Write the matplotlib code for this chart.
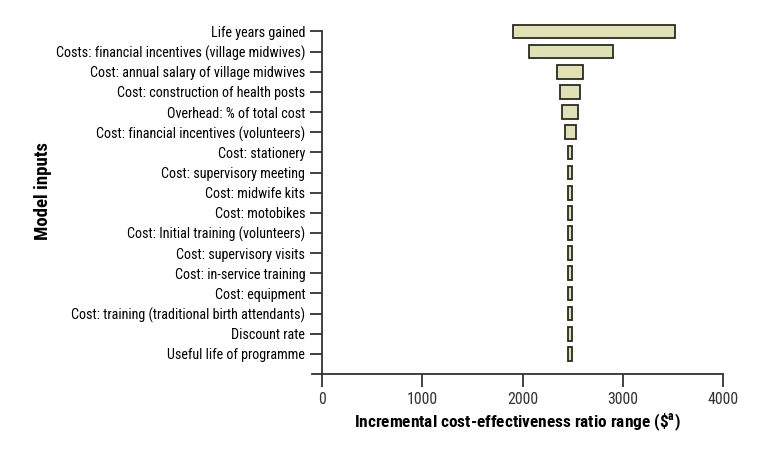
import matplotlib.pyplot as plt

# tornado chart: ICER range per model input
inputs = [
    "Life years gained",
    "Costs: financial incentives (village midwives)",
    "Cost: annual salary of village midwives",
    "Cost: construction of health posts",
    "Overhead: % of total cost",
    "Cost: financial incentives (volunteers)",
    "Cost: stationery",
    "Cost: supervisory meeting",
    "Cost: midwife kits",
    "Cost: motobikes",
    "Cost: Initial training (volunteers)",
    "Cost: supervisory visits",
    "Cost: in-service training",
    "Cost: equipment",
    "Cost: training (traditional birth attendants)",
    "Discount rate",
    "Useful life of programme",
]
low = [1905, 2060, 2345, 2375, 2398, 2425, 2458, 2458, 2458, 2458, 2458, 2458, 2458, 2458, 2458, 2458, 2458]
high = [3525, 2900, 2605, 2578, 2552, 2530, 2494, 2492, 2492, 2492, 2492, 2492, 2492, 2492, 2492, 2492, 2492]
xticks = [0, 1000, 2000, 3000, 4000]

plt.rcParams['font.family'] = ['Roboto Condensed', 'Liberation Sans', 'DejaVu Sans']

fig = plt.figure(figsize=(7.71, 4.54), dpi=100)
ax = fig.add_axes([312 / 771, 1 - 374 / 454, (723 - 312) / 771, (374 - 19.4) / 454])

widths = [h - l for l, h in zip(low, high)]
ax.barh(range(len(inputs)), widths, left=low, height=0.68,
        color="#dfe0b4", edgecolor="#2b2b22", linewidth=1.3)

ax.set_xlim(-100, 4000)
ax.set_ylim(17, -0.6)
ax.set_yticks(range(len(inputs)))
ylabels = ax.set_yticklabels(inputs, fontsize=11.4, color="#1a1a1a")
ax.set_xticks(xticks)
ax.set_xticklabels([str(t) for t in xticks], fontsize=11.4, color="#333333")

for s in ["top", "right"]:
    ax.spines[s].set_visible(False)
ax.spines["left"].set_position(("data", 0))
ax.spines["left"].set_bounds(0, 17)
ax.spines["bottom"].set_bounds(-100, 4000)
for s in ["left", "bottom"]:
    ax.spines[s].set_color("#333333")
    ax.spines[s].set_linewidth(1.3)
ax.tick_params(axis="both", length=9, width=1.3, color="#333333")
ax.tick_params(axis="y", pad=3)
ax.tick_params(axis="x", pad=4)

# longest label is about 250 px wide in the original
fig.canvas.draw()
w = ylabels[1].get_window_extent().width
fs = min(13.0, 11.4 * 250 / w)
for lab in ax.get_yticklabels():
    lab.set_fontsize(fs)

ax.set_xlabel(r"Incremental cost-effectiveness ratio range (\$$^{\mathregular{a}}$)",
              fontsize=12.4, fontweight="bold", labelpad=3)
fig.text(43 / 771, 1 - 191 / 454, "Model inputs", rotation=90, fontsize=13.5,
         fontweight="bold", ha="center", va="center")

fig.savefig("out.png", dpi=100)
